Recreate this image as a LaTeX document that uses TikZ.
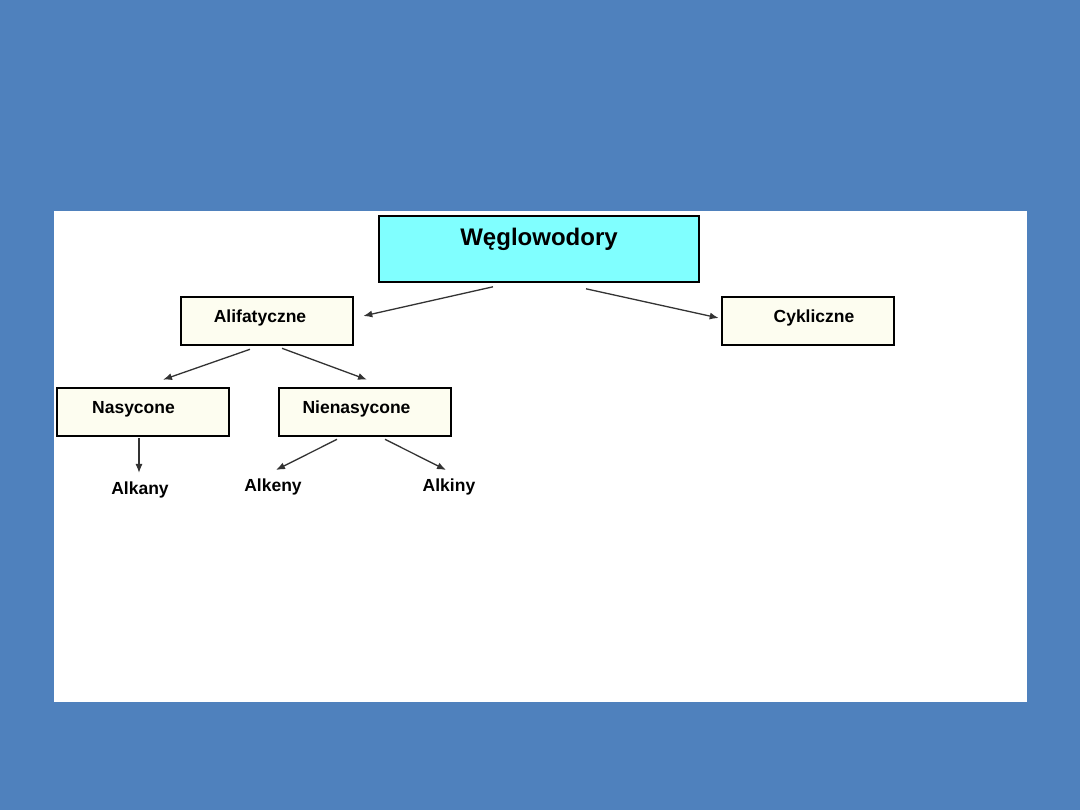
\documentclass[tikz,border=0pt]{standalone}
\usepackage{fontspec}
\setmainfont{Liberation Sans}
\usepackage{tikz}
\usetikzlibrary{arrows.meta,positioning}
\definecolor{slideblue}{HTML}{4F81BD}
\definecolor{rootcyan}{HTML}{80FFFF}
\definecolor{boxcream}{HTML}{FDFDF0}
\definecolor{arrowgray}{HTML}{333333}

\begin{document}
\begin{tikzpicture}[
  x=1pt,y=-1pt,
  root/.style={draw=black,line width=1.6pt,fill=rootcyan,minimum width=320pt,inner xsep=0pt,inner ysep=6pt,text height=24pt,text depth=30pt,font=\fontsize{24}{28}\selectfont\bfseries},
  group/.style={draw=black,line width=2.6pt,fill=boxcream,minimum width=172pt,inner xsep=0pt,inner ysep=5pt,text height=21pt,text depth=17pt,font=\fontsize{17.5}{20}\selectfont\bfseries},
  leaf/.style={inner sep=0pt,font=\fontsize{17.5}{20}\selectfont\bfseries},
  arrow/.style={-{Latex[length=9pt,width=7pt]},line width=1.3pt,color=arrowgray}
]
% slide background and white panel
\fill[slideblue] (0,0) rectangle (1080,810);
\fill[white] (54,211) rectangle (1027,702);
\useasboundingbox (0,0) rectangle (1080,810);

\node[root] (wegl) at (539,249) {W\k{e}glowodory};
\node[group] (alif) at (267,321) {\hspace*{-14pt}Alifatyczne};
\node[group] (cykl) at (808,321) {\hspace*{12pt}Cykliczne};
\node[group] (nasy) at (143,412) {\hspace*{-19pt}Nasycone};
\node[group] (nien) at (365,412) {\hspace*{-17pt}Nienasycone};
\node[leaf] (alkany) at (140,490) {Alkany};
\node[leaf] (alkeny) at (273,487) {Alkeny};
\node[leaf] (alkiny) at (449,487) {Alkiny};

\draw[arrow] ([xshift=-46pt,yshift=-4pt]wegl.south) -- ([xshift=9pt,yshift=5pt]alif.east);
\draw[arrow] ([xshift=47pt,yshift=-6pt]wegl.south) -- ([xshift=-2pt,yshift=3pt]cykl.west);
\draw[arrow] ([xshift=-17pt,yshift=-3pt]alif.south) -- ([xshift=20pt,yshift=7pt]nasy.north);
\draw[arrow] ([xshift=15pt,yshift=-2pt]alif.south) -- ([xshift=2pt,yshift=7pt]nien.north);
\draw[arrow] ([xshift=-4pt,yshift=-1pt]nasy.south) -- ([xshift=-1pt,yshift=17pt]alkany.center);
\draw[arrow] ([xshift=-28pt,yshift=-2pt]nien.south) -- ([xshift=3pt,yshift=17pt]alkeny.center);
\draw[arrow] ([xshift=20pt,yshift=-2pt]nien.south) -- ([xshift=-3pt,yshift=17pt]alkiny.center);
\end{tikzpicture}
\end{document}
